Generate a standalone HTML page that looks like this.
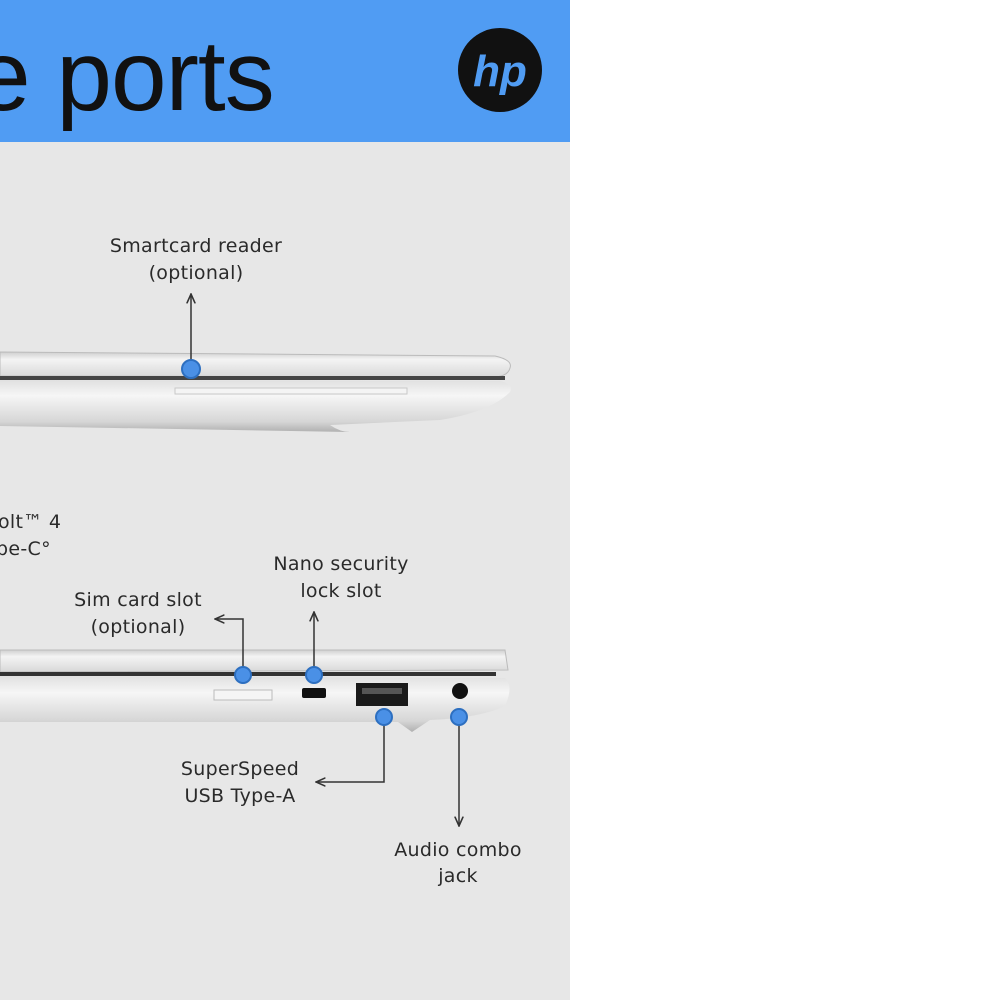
<!DOCTYPE html>
<html><head><style>
body{margin:0;width:1000px;height:1000px;background:#fff;overflow:hidden;font-family:"Liberation Sans",sans-serif}
.l{font-size:21px;letter-spacing:1px;fill:#2a2a2a;font-family:"DejaVu Sans","Liberation Sans",sans-serif;font-size:19px;letter-spacing:0.3px}
</style></head><body>
<svg width="1000" height="1000" viewBox="0 0 1000 1000" xmlns="http://www.w3.org/2000/svg">
<defs>
<linearGradient id="lid" x1="0" y1="0" x2="0" y2="1"><stop offset="0" stop-color="#cfcfcf"/><stop offset="0.3" stop-color="#f4f4f4"/><stop offset="1" stop-color="#d8d8d8"/></linearGradient>
<linearGradient id="base" x1="0" y1="0" x2="0" y2="1"><stop offset="0" stop-color="#e0e0e0"/><stop offset="0.3" stop-color="#f6f6f6"/><stop offset="0.8" stop-color="#d6d6d6"/><stop offset="1" stop-color="#b0b0b0"/></linearGradient>
<marker id="ar" viewBox="0 0 10 10" refX="9" refY="5" markerWidth="7" markerHeight="7" orient="auto-start-reverse"><path d="M0,1 L9,5 L0,9" fill="none" stroke="#333" stroke-width="1.5"/></marker>
</defs>
<rect x="0" y="0" width="570" height="1000" fill="#e7e7e7"/>
<rect x="0" y="0" width="570" height="142" fill="#509cf3"/>
<text x="-25" y="110" font-size="100" fill="#111" letter-spacing="-1">e ports</text>
<circle cx="500" cy="70" r="42" fill="#111"/>
<text x="500" y="86" font-size="44" fill="#509cf3" font-style="italic" font-weight="bold" text-anchor="middle">hp</text>

<path d="M0,352 L495,356 Q513,360 510,368 Q508,376 495,377 L0,376 Z" fill="url(#lid)" stroke="#bbb"/>
<rect x="0" y="376" width="505" height="4" fill="#444"/>
<path d="M0,380 L500,381 Q514,384 510,392 Q490,412 440,420 L330,425 Q340,432 350,432 L0,426 Z" fill="url(#base)"/>
<rect x="175" y="388" width="232" height="6" fill="#f4f4f4" stroke="#c8c8c8"/>
<text class="l" x="196" y="252" text-anchor="middle">Smartcard reader</text>
<text class="l" x="196" y="279" text-anchor="middle">(optional)</text>
<line x1="191" y1="369" x2="191" y2="294" stroke="#333" stroke-width="1.5" marker-end="url(#ar)"/>
<circle cx="191" cy="369" r="9" fill="#4a90e6" stroke="#2d6fc0" stroke-width="2"/>

<path d="M0,650 L505,650 L508,670 L0,672 Z" fill="url(#lid)" stroke="#bbb"/>
<rect x="0" y="672" width="496" height="4" fill="#333"/>
<path d="M0,676 L505,678 Q514,686 505,706 Q480,718 430,720 L412,732 L398,722 L0,722 Z" fill="url(#base)"/>
<rect x="214" y="690" width="58" height="10" fill="#f5f5f5" stroke="#bbb"/>
<rect x="302" y="688" width="24" height="10" rx="2" fill="#111"/>
<rect x="356" y="683" width="52" height="23" fill="#1a1a1a"/>
<rect x="362" y="688" width="40" height="6" fill="#555"/>
<circle cx="460" cy="691" r="8" fill="#111"/>
<text class="l" x="-2" y="528">olt™ 4</text>
<text class="l" x="-4" y="555">pe-C°</text>
<text class="l" x="138" y="606" text-anchor="middle">Sim card slot</text>
<text class="l" x="138" y="633" text-anchor="middle">(optional)</text>
<text class="l" x="341" y="570" text-anchor="middle">Nano security</text>
<text class="l" x="341" y="597" text-anchor="middle">lock slot</text>
<path d="M243,675 L243,619 L215,619" fill="none" stroke="#333" stroke-width="1.5" marker-end="url(#ar)"/>
<line x1="314" y1="675" x2="314" y2="612" stroke="#333" stroke-width="1.5" marker-end="url(#ar)"/>
<text class="l" x="240" y="775" text-anchor="middle">SuperSpeed</text>
<text class="l" x="240" y="802" text-anchor="middle">USB Type-A</text>
<path d="M384,717 L384,782 L316,782" fill="none" stroke="#333" stroke-width="1.5" marker-end="url(#ar)"/>
<line x1="459" y1="717" x2="459" y2="826" stroke="#333" stroke-width="1.5" marker-end="url(#ar)"/>
<text class="l" x="458" y="856" text-anchor="middle">Audio combo</text>
<text class="l" x="458" y="882" text-anchor="middle">jack</text>
<circle cx="243" cy="675" r="8" fill="#4a90e6" stroke="#2d6fc0" stroke-width="2"/>
<circle cx="314" cy="675" r="8" fill="#4a90e6" stroke="#2d6fc0" stroke-width="2"/>
<circle cx="384" cy="717" r="8" fill="#4a90e6" stroke="#2d6fc0" stroke-width="2"/>
<circle cx="459" cy="717" r="8" fill="#4a90e6" stroke="#2d6fc0" stroke-width="2"/>
</svg>
</body></html>
